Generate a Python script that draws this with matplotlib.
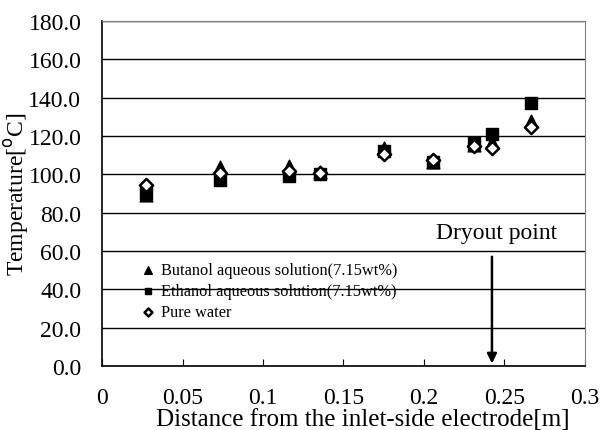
import matplotlib.pyplot as plt

# positions along the channel [m]
distance = [0.027, 0.0735, 0.116, 0.1355, 0.1755, 0.2055, 0.231, 0.2425, 0.2668]

butanol = [89.5, 104.0, 104.5, 101.5, 114.0, 106.5, 115.5, 117.0, 128.0]
ethanol = [90.5, 97.0, 99.0, 100.0, 112.0, 106.5, 116.3, 121.0, 137.2]
water = [94.4, 100.7, 101.9, 100.5, 110.4, 107.4, 114.6, 113.7, 124.8]

dryout_x = 0.2423

plt.rcParams['font.family'] = ['Liberation Serif', 'DejaVu Serif']

fig, ax = plt.subplots(figsize=(6.01, 4.31), dpi=100)
fig.subplots_adjust(left=0.17, right=0.973, top=0.949, bottom=0.148)

ax.set_xlim(0, 0.3)
ax.set_ylim(0, 180)
ax.set_yticks(range(0, 181, 20))
ax.set_yticklabels(['%.1f' % v for v in range(0, 181, 20)])
ax.set_xticks([0, 0.05, 0.1, 0.15, 0.2, 0.25, 0.3])
ax.set_xticklabels(['0', '0.05', '0.1', '0.15', '0.2', '0.25', '0.3'])
ax.grid(axis='y', color='black', lw=1)
ax.set_axisbelow(True)

ax.tick_params(axis='y', length=0, labelsize=17, pad=15)
ax.tick_params(axis='x', direction='in', length=5, labelsize=17, pad=15)
ax.spines['left'].set_linewidth(1.2)
ax.spines['bottom'].set_linewidth(1.2)
ax.spines['top'].set_color('#808080')
ax.spines['right'].set_color('#808080')

ax.scatter(distance, butanol, marker='^', s=85, c='black', zorder=3,
           label='Butanol aqueous solution(7.15wt%)')
ax.scatter(distance, ethanol, marker='s', s=65, c='black', zorder=3,
           label='Ethanol aqueous solution(7.15wt%)')
ax.scatter(distance, water, marker='D', s=45, facecolors='white', edgecolors='black',
           linewidths=1.8, zorder=4, label='Pure water')

ax.annotate('', xy=(dryout_x, 0), xytext=(dryout_x, 58.5),
            arrowprops=dict(arrowstyle='-|>', color='black', lw=1.8, mutation_scale=14))
ax.text(dryout_x + 0.003, 64, 'Dryout point', ha='center', va='bottom', fontsize=17)

ax.legend(loc='lower left', bbox_to_anchor=(0.055, 0.1), frameon=False, fontsize=11.8,
          handlelength=1.0, handletextpad=0.3, labelspacing=0.3, markerscale=0.6,
          borderpad=0.2)

ax.set_xlabel('Distance from the inlet-side electrode[m]', fontsize=18, labelpad=0)
ax.xaxis.label.set_x(0.54)
ax.set_ylabel('Temperature[$^{\\mathrm{o}}$C]', fontsize=17, labelpad=-2)

fig.savefig('out.png')
